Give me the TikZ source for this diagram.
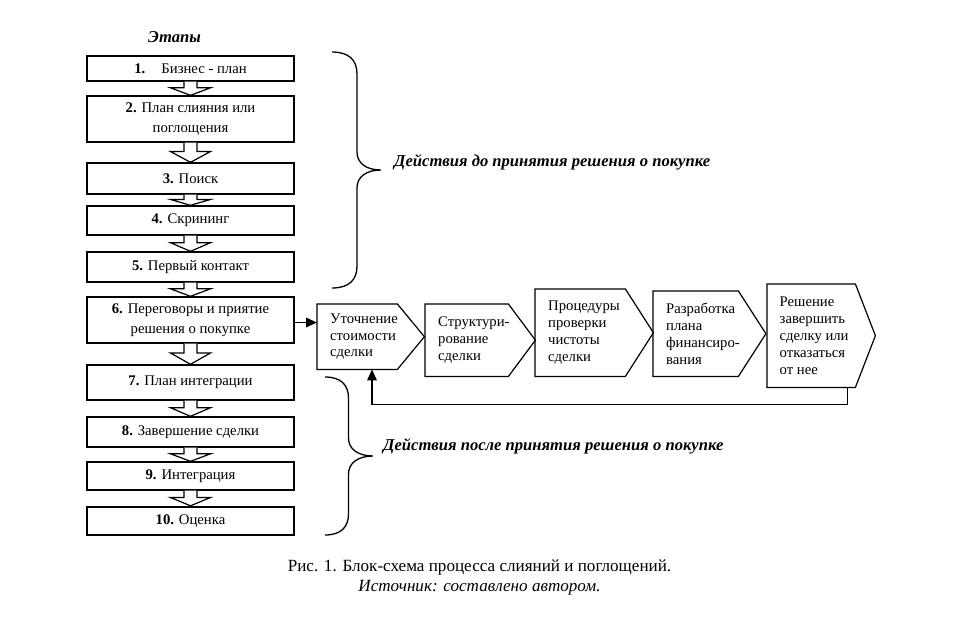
\documentclass[tikz,border=0pt]{standalone}
\usepackage{fontspec}
\setmainfont{Liberation Serif}
\usetikzlibrary{arrows.meta,calc}
\newcommand\stagearrow[2]{%
  \draw[blockarr] let \p1=(#1.south), \p2=(#2.north), \p3=($(#2.north)!0.55!(#1.south)$) in
    (\x1-6.5pt,\y1) -- (\x1-6.5pt,\y3) -- (\x1-20pt,\y3) -- (\x2,\y2) -- (\x1+20pt,\y3) -- (\x1+6.5pt,\y3) -- (\x1+6.5pt,\y1);}
\newcommand\chevoutline[2]{%
  \draw[chevline] (#1.north west) -- (#1.north east) -- ($(#1.east)+(#2,0)$) -- (#1.south east) -- (#1.south west) -- cycle;}
\begin{document}
\begin{tikzpicture}[x=1pt,y=-1pt,
  stage/.style={draw, line width=1.4pt, minimum width=207pt, inner sep=0pt, align=center,
    font=\fontsize{14.7}{19.5}\selectfont},
  chevbody/.style={inner sep=0pt, anchor=north west},
  chevtext/.style={anchor=west, align=left, inner sep=0pt, font=\fontsize{14.7}{16.8}\selectfont},
  chevline/.style={draw, line width=1.2pt, line join=miter},
  blockarr/.style={draw, line width=1.2pt, fill=white},
  conn/.style={line width=1.8pt, -{Triangle[length=11pt,width=9.5pt]}},
  brace/.style={line width=1.3pt},
  bracelabel/.style={font=\fontsize{16.6}{19}\selectfont\bfseries\itshape, anchor=base west, inner sep=0pt},
  caption/.style={anchor=base, inner sep=0pt, font=\fontsize{17.1}{20}\selectfont},
]
\useasboundingbox (0,0) rectangle (980,616);

\node[bracelabel] (etapy) at (148,42) {Этапы};

\node[stage, minimum height=25pt] (b1) at (190.5,68.5) {\textbf{1.}\hspace{1.1em}Бизнес - план};
\node[stage, minimum height=46pt] (b2) at (190.5,119) {\textbf{2.} План слияния или\\поглощения};
\node[stage, minimum height=31pt] (b3) at (190.5,178.5) {\textbf{3.} Поиск};
\node[stage, minimum height=29pt] (b4) at (190.5,220.5) {\textbf{4.} Скрининг};
\node[stage, minimum height=30pt] (b5) at (190.5,267) {\textbf{5.} Первый контакт};
\node[stage, minimum height=46pt] (b6) at (190.5,320) {\textbf{6.} Переговоры и приятие\\решения о покупке};
\node[stage, minimum height=35pt] (b7) at (190.5,382.5) {\textbf{7.} План интеграции};
\node[stage, minimum height=30pt] (b8) at (190.5,432) {\textbf{8.} Завершение сделки};
\node[stage, minimum height=28pt] (b9) at (190.5,476) {\textbf{9.} Интеграция};
\node[stage, minimum height=28pt, line width=2.4pt] (b10) at (190.5,521) {\textbf{10.} Оценка};

\stagearrow{b1}{b2}
\stagearrow{b2}{b3}
\stagearrow{b3}{b4}
\stagearrow{b4}{b5}
\stagearrow{b5}{b6}
\stagearrow{b6}{b7}
\stagearrow{b7}{b8}
\stagearrow{b8}{b9}
\stagearrow{b9}{b10}

% chevrons
\node[chevbody, minimum width=80pt, minimum height=65pt] (c1) at (317,304) {};
\node[chevbody, minimum width=83pt, minimum height=72pt] (c2) at (425,304) {};
\node[chevbody, minimum width=90pt, minimum height=87pt] (c3) at (535,289) {};
\node[chevbody, minimum width=85pt, minimum height=85pt] (c4) at (653,291) {};
\node[chevbody, minimum width=88pt, minimum height=103pt] (c5) at (767,284) {};
\chevoutline{c1}{27}
\chevoutline{c2}{27}
\chevoutline{c3}{28}
\chevoutline{c4}{27.5}
\chevoutline{c5}{20}
\node[chevtext] (c1t) at ($(c1.west)+(13,0)$) {Уточнение\\стоимости\\сделки};
\node[chevtext] (c2t) at ($(c2.west)+(13,0)$) {Структури-\\рование\\сделки};
\node[chevtext] (c3t) at ($(c3.west)+(13,0)$) {Процедуры\\проверки\\чистоты\\сделки};
\node[chevtext] (c4t) at ($(c4.west)+(13,0)$) {Разработка\\плана\\финансиро-\\вания};
\node[chevtext] (c5t) at ($(c5.west)+(12.5,0)$) {Решение\\завершить\\сделку или\\отказаться\\от нее};

% connectors
\coordinate (b6out) at ($(b6.east)+(0,2.5)$);
\draw[conn] (b6out) -- (b6out -| c1.west);
\coordinate (fbA) at ($(c5.south east)+(-8,0)$);
\coordinate (fbB) at ($(c5.south east)+(-8,17)$);
\coordinate (fbC) at ($(c1.south west)+(55,0)$);
\draw[conn] (fbA) -- (fbB) -| (fbC);

% braces
\draw[brace] (332,52) .. controls (349,52) and (357,60) .. (357,74) -- (357,152)
  .. controls (357,163) and (366,170) .. (381,170)
  .. controls (366,170) and (357,177) .. (357,188) -- (357,266)
  .. controls (357,280) and (349,288) .. (332,288);
\draw[brace] (325,377) .. controls (341,377) and (348.5,385) .. (348.5,398) -- (348.5,438)
  .. controls (348.5,449) and (358,456) .. (373,456)
  .. controls (358,456) and (348.5,463) .. (348.5,474) -- (348.5,514)
  .. controls (348.5,527) and (341,535) .. (325,535);
\node[bracelabel] (lbl1) at (394,166) {Действия до принятия решения о покупке};
\node[bracelabel] (lbl2) at (383,450) {Действия после принятия решения о покупке};

% caption
\node[caption] (cap1) at (479.5,571) {Рис. 1. Блок-схема процесса слияний и поглощений.};
\node[caption, font=\fontsize{17.1}{20}\selectfont\itshape] (cap2) at (479.5,591.5) {Источник: составлено автором.};
\end{tikzpicture}
\end{document}
